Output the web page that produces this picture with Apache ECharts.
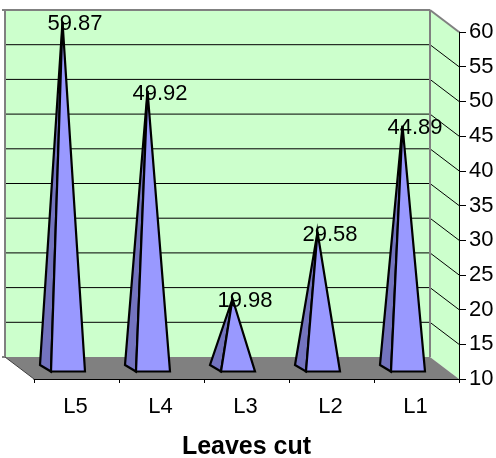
<!DOCTYPE html>
<html>
<head>
<meta charset="utf-8">
<style>html,body{margin:0;padding:0;background:#fff}#c{width:496px;height:458px}</style>
<script src="https://cdn.jsdelivr.net/npm/echarts@6/dist/echarts.min.js"></script>
</head>
<body>
<div id="c"></div>
<script>
var categories = ['L5', 'L4', 'L3', 'L2', 'L1'];
var values = [59.87, 49.92, 19.98, 29.58, 44.89];
var gridValues = [15, 20, 25, 30, 35, 40, 45, 50, 55];
var axisTitle = 'Leaves cut';
var FONT = '"Liberation Sans", Arial, sans-serif';
var DX = -29, DY = -22;

var chart = echarts.init(document.getElementById('c'), null, {renderer: 'canvas'});

function renderWalls(params, api) {
  var cs = params.coordSys;
  var L = cs.x, R = cs.x + cs.width, T = cs.y, B = cs.y + cs.height;
  var kids = [];
  function poly(points, fill) {
    kids.push({type: 'polygon', shape: {points: points}, style: {fill: fill, stroke: null}});
  }
  function line(x1, y1, x2, y2, color, w) {
    kids.push({type: 'line', shape: {x1: x1, y1: y1, x2: x2, y2: y2}, style: {stroke: color, lineWidth: w, fill: null}});
  }
  poly([[L + DX, T + DY], [R + DX, T + DY], [R + DX, B + DY], [L + DX, B + DY]], '#CCFFCC');
  poly([[R + DX, T + DY], [R, T], [R, B], [R + DX, B + DY]], '#CCFFCC');
  poly([[L + DX, B + DY], [R + DX, B + DY], [R, B], [L, B]], '#808080');
  gridValues.forEach(function (v) {
    var y = api.coord([0, v])[1];
    line(L + DX, y + DY, R + DX, y + DY, '#000', 1);
    line(R + DX, y + DY, R, y, '#000', 1);
  });
  line(L + DX - 3, T + DY, R + DX, T + DY, '#808080', 2);
  line(R + DX, T + DY, R, T, '#808080', 2);
  line(L + DX, T + DY, L + DX, B + DY, '#808080', 2);
  line(R + DX, T + DY, R + DX, B + DY, '#808080', 2);
  line(L + DX - 3, B + DY, L + DX, B + DY, '#808080', 2);
  line(L + DX, B + DY, L, B, '#404040', 1);
  return {type: 'group', children: kids};
}

function renderPyramid(params, api) {
  var idx = api.value(0), val = api.value(1);
  var top = api.coord([idx, val]);
  var base = api.coord([idx, 10]);
  var cx = base[0] - 8.5, fy = base[1] - 7.5;
  var fl = [cx - 17, fy], fr = [cx + 17, fy], bl = [cx - 28, fy - 6.5];
  var apex = [base[0] - 14, top[1] - 11];
  var st = {stroke: '#000', lineWidth: 2.2, lineJoin: 'miter'};
  return {type: 'group', children: [
    {type: 'polygon', shape: {points: [bl, fl, apex]}, style: Object.assign({fill: '#7373BF'}, st)},
    {type: 'polygon', shape: {points: [fl, fr, apex]}, style: Object.assign({fill: '#9999FF'}, st)},
    {type: 'text', z2: 10, style: {
      text: val.toFixed(2), x: top[0] - 1.5, y: top[1] - 8.5, align: 'center', verticalAlign: 'middle',
      fill: '#000', font: '22px ' + FONT
    }}
  ]};
}

chart.setOption({
  animation: false,
  backgroundColor: '#fff',
  grid: {left: 34, right: 37, top: 32, bottom: 79, containLabel: false, outerBoundsMode: 'none'},
  xAxis: {
    type: 'category', data: categories, z: 5,
    name: axisTitle, nameLocation: 'middle', nameGap: 56,
    nameTextStyle: {fontFamily: FONT, fontSize: 25, fontWeight: 'bold', color: '#000', padding: [0, 0, 0, 0]},
    axisLine: {lineStyle: {color: '#000', width: 1}},
    axisTick: {show: true, length: 4, alignWithLabel: false, lineStyle: {color: '#000'}},
    axisLabel: {fontFamily: FONT, fontSize: 22, color: '#000', margin: 17, padding: [0, 2, 0, 0]}
  },
  yAxis: {
    type: 'value', position: 'right', min: 10, max: 60, interval: 5, z: 5,
    axisLine: {show: true, lineStyle: {color: '#000', width: 1}},
    axisTick: {show: true, length: 7, inside: false, lineStyle: {color: '#000'}},
    axisLabel: {fontFamily: FONT, fontSize: 22, color: '#000', margin: 10},
    splitLine: {show: false}
  },
  series: [
    {type: 'custom', name: 'walls', z: 1, silent: true, renderItem: renderWalls, data: [[0, 10]]},
    {type: 'custom', name: 'Leaves cut', z: 3, renderItem: renderPyramid,
      encode: {x: 0, y: 1},
      data: values.map(function (v, i) { return [i, v]; })}
  ]
});
</script>
</body>
</html>
